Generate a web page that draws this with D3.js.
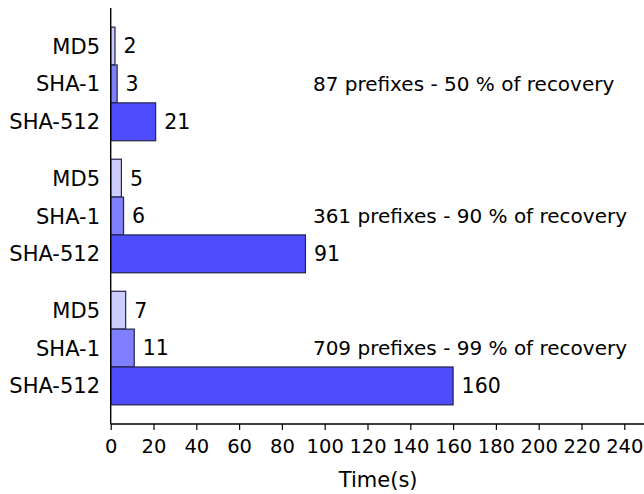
<!DOCTYPE html>
<html>
<head>
<meta charset="utf-8">
<script src="https://cdn.jsdelivr.net/npm/d3@7"></script>
<style>
  body { margin: 0; background: #fff; }
  text { font-family: "DejaVu Sans", sans-serif; fill: #000; }
</style>
</head>
<body>
<div id="chart-area"></div>
<script>
// data
const groups = ["87 prefixes - 50 % of recovery",
  "361 prefixes - 90 % of recovery",
  "709 prefixes - 99 % of recovery"];
const algos = ["MD5", "SHA-1", "SHA-512"];
const md5Times = [2, 5, 7];
const sha1Times = [3, 6, 11];
const sha512Times = [21, 91, 160];
const xTicks = [0, 20, 40, 60, 80, 100, 120, 140, 160, 180, 200, 220, 240];

const series = [md5Times, sha1Times, sha512Times];
const data = [];
groups.forEach((g, i) => {
  algos.forEach((a, j) => {
    data.push({ group: g, algo: a, value: series[j][i] });
  });
});

const colors = { "MD5": "#ccccff", "SHA-1": "#8080ff", "SHA-512": "#4d4dff" };

const width = 644, height = 494;
const fs = '21px';

const x = d3.scaleLinear()
  .domain([0, 250])
  .range([110.7, 645.7]);

const y = d3.scaleBand()
  .domain(groups)
  .range([8, 424])
  .paddingInner(0.14)
  .paddingOuter(0.145);

const yInner = d3.scaleBand()
  .domain(algos)
  .range([0, y.bandwidth()]);

const svg = d3.select('#chart-area').append('svg')
  .attr('width', width)
  .attr('height', height);

// bars
svg.selectAll('rect.bar')
  .data(data)
  .enter()
  .append('rect')
    .attr('class', 'bar')
    .attr('x', x(0))
    .attr('y', d => y(d.group) + yInner(d.algo))
    .attr('width', d => x(d.value) - x(0))
    .attr('height', yInner.bandwidth())
    .attr('fill', d => colors[d.algo])
    .attr('stroke', '#23234a')
    .attr('stroke-width', 1.2);

// value labels
svg.selectAll('text.val')
  .data(data)
  .enter()
  .append('text')
    .attr('class', 'val')
    .attr('x', d => x(d.value) + 8.5)
    .attr('y', d => y(d.group) + yInner(d.algo) + yInner.bandwidth() / 2)
    .attr('dy', '0.36em')
    .style('font-size', '20.5px')
    .text(d => d.value);

// category labels
svg.selectAll('text.cat')
  .data(data)
  .enter()
  .append('text')
    .attr('class', 'cat')
    .attr('x', 100)
    .attr('y', d => y(d.group) + yInner(d.algo) + yInner.bandwidth() / 2)
    .attr('dy', '0.36em')
    .attr('text-anchor', 'end')
    .style('font-size', fs)
    .text(d => d.algo);

// group annotations
svg.selectAll('text.note')
  .data(groups)
  .enter()
  .append('text')
    .attr('class', 'note')
    .attr('x', x(94.5))
    .attr('y', d => y(d) + yInner('SHA-1') + yInner.bandwidth() / 2)
    .attr('dy', '0.36em')
    .style('font-size', '20px')
    .text(d => d);

// x axis
const xAxis = svg.append('g')
  .attr('transform', 'translate(0,424)')
  .call(d3.axisBottom(x).tickValues(xTicks).tickSize(6).tickPadding(9));
xAxis.select('.domain').attr('d', `M${x(0)},0H${width}`).attr('stroke-width', 1.4);
xAxis.selectAll('.tick line').attr('stroke-width', 1.2);
xAxis.selectAll('.tick text')
  .style('font-size', '19.5px')
  .style('font-family', '"DejaVu Sans", sans-serif');

// y axis line
svg.append('line')
  .attr('x1', x(0)).attr('x2', x(0))
  .attr('y1', 8).attr('y2', 424)
  .attr('stroke', '#000')
  .attr('stroke-width', 1.4);

svg.append('text')
  .attr('x', (x(0) + x(250)) / 2)
  .attr('y', 487)
  .attr('text-anchor', 'middle')
  .style('font-size', fs)
  .text('Time(s)');
</script>
</body>
</html>
